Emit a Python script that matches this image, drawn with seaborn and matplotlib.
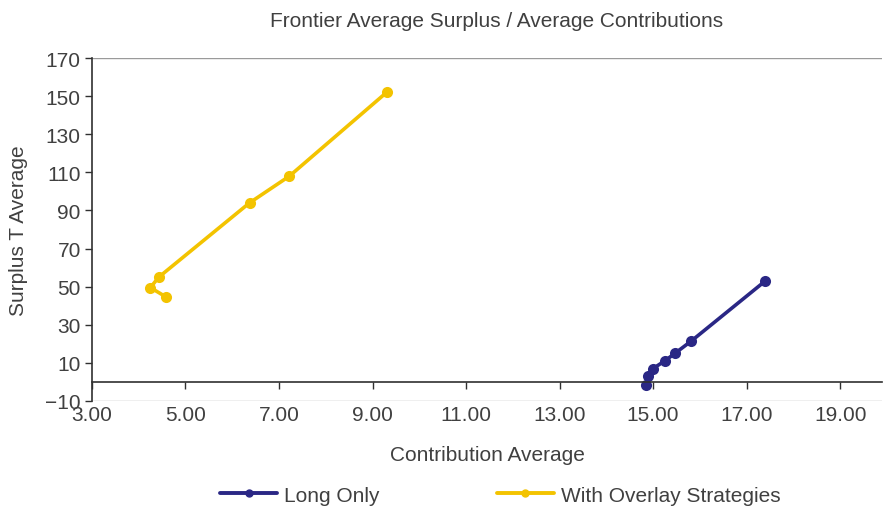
import matplotlib
matplotlib.use('Agg')
import matplotlib.pyplot as plt
import seaborn as sns
import pandas as pd

# ---- data ----
long_x = [14.85, 14.90, 15.00, 15.25, 15.47, 15.82, 17.40]
long_y = [-1.5, 3.0, 7.0, 11.0, 15.0, 21.5, 53.0]
overlay_x = [4.59, 4.25, 4.43, 6.37, 7.22, 9.30]
overlay_y = [44.5, 49.5, 55.0, 94.0, 108.0, 152.0]
series_names = ['Long Only', 'With Overlay Strategies']
x_ticks = [3, 5, 7, 9, 11, 13, 15, 17, 19]
y_ticks = [-10, 10, 30, 50, 70, 90, 110, 130, 150, 170]

BLUE = '#2a2785'
GOLD = '#f3c300'
TXT = '#404040'
FS = 15

df = pd.DataFrame({
    'x': long_x + overlay_x,
    'y': long_y + overlay_y,
    'series': [series_names[0]] * len(long_x) + [series_names[1]] * len(overlay_x),
})

sns.set_style('white')
plt.rcParams['font.family'] = ['Liberation Sans', 'DejaVu Sans']

fig = plt.figure(figsize=(8.84, 5.10), dpi=100)
ax = fig.add_axes([0.104, 0.212, 0.894, 0.672])

sns.lineplot(data=df, x='x', y='y', hue='series', sort=False, estimator=None,
             palette=[BLUE, GOLD], marker='o', markersize=8, linewidth=2.6,
             markeredgewidth=0, ax=ax, legend=False)

ax.set_xlim(3, 19.9)
ax.set_ylim(-10, 170)
ax.set_xticks(x_ticks)
ax.set_xticklabels([f'{v:.2f}' for v in x_ticks])
ax.set_yticks(y_ticks)
ax.set_yticklabels([f'{v}'.replace('-', '\u2212') for v in y_ticks])

# bottom axis line sits at y = 0, labels stay under the plot area
for s in ['top', 'right']:
    ax.spines[s].set_visible(False)
ax.spines['bottom'].set_position(('data', 0))
ax.spines['bottom'].set_color('#303030')
ax.spines['bottom'].set_linewidth(1.2)
ax.spines['left'].set_color('#303030')
ax.spines['left'].set_linewidth(1.2)
ax.axhline(170, color='#9a9a9a', lw=1)
ax.axhline(-10, color='#b0b0b0', lw=1)

ax.tick_params(axis='x', direction='out', length=5, width=1, color='#303030',
               pad=12, labelsize=FS, labelcolor=TXT)
ax.tick_params(axis='y', direction='out', length=5, width=1, color='#303030',
               pad=3, labelsize=FS, labelcolor=TXT)
ax.xaxis.set_ticks_position('bottom')
ax.yaxis.set_ticks_position('left')

ax.set_xlabel('Contribution Average', fontsize=FS, color=TXT)
ax.set_ylabel('Surplus T Average', fontsize=FS, color=TXT)
ax.xaxis.set_label_coords(0.5, -0.13)
ax.yaxis.set_label_coords(-0.081, 0.5)
fig.text(0.562, 0.958, 'Frontier Average Surplus / Average Contributions',
         fontsize=FS, color=TXT, ha='center', va='center')

handles = [plt.Line2D([], [], color=c, lw=2.8, marker='o', markersize=5)
           for c in [BLUE, GOLD]]
leg = fig.legend(handles, series_names, loc='center', ncol=2,
                 bbox_to_anchor=(0.566, 0.027), frameon=False, fontsize=FS,
                 handlelength=2.75, columnspacing=5.6, handletextpad=0.35)
for t in leg.get_texts():
    t.set_color(TXT)

fig.savefig('out.png', dpi=100)
